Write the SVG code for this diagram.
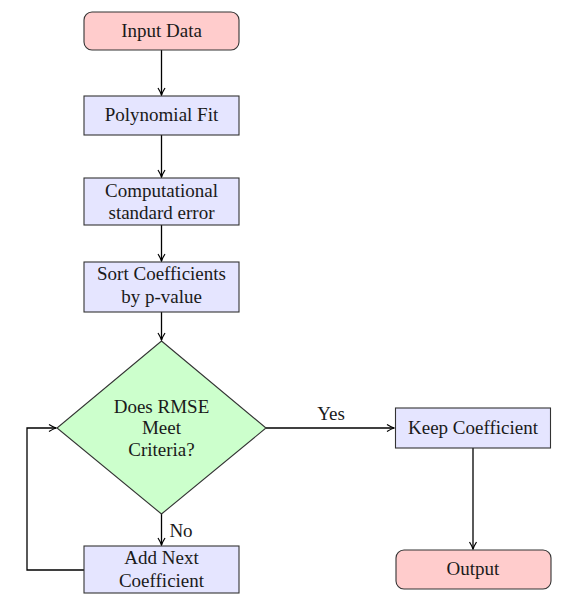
<svg xmlns="http://www.w3.org/2000/svg" width="577" height="609" viewBox="0 0 577 609">
<defs>
<style>
text{font-family:"Liberation Serif",serif;font-size:19px;fill:#1a1a1a;text-anchor:middle}
.term{fill:#ffcccc;stroke:#333;stroke-width:1.1}
.proc{fill:#e5e5ff;stroke:#333;stroke-width:1.1}
.dec{fill:#ccffcc;stroke:#333;stroke-width:1.1}
.c{fill:none;stroke:#000;stroke-width:1.3}
</style>
<marker id="a" markerWidth="10" markerHeight="10" refX="8" refY="5" orient="auto" markerUnits="userSpaceOnUse">
<path d="M1,1.5 Q5,4 8,5 Q5,6 1,8.5" fill="none" stroke="#000" stroke-width="1.2"/>
</marker>
</defs>
<rect width="577" height="609" fill="#fff"/>
<g id="connectors">
<line class="c" x1="161.5" y1="50" x2="161.5" y2="95" marker-end="url(#a)"/>
<line class="c" x1="161.5" y1="135" x2="161.5" y2="177" marker-end="url(#a)"/>
<line class="c" x1="161.5" y1="225" x2="161.5" y2="261" marker-end="url(#a)"/>
<line class="c" x1="161.5" y1="312" x2="161.5" y2="340" marker-end="url(#a)"/>
<line class="c" x1="161.5" y1="514" x2="161.5" y2="545" marker-end="url(#a)"/>
<text x="181" y="537">No</text>
<line class="c" x1="266" y1="428" x2="394" y2="428" marker-end="url(#a)"/>
<text x="331" y="420">Yes</text>
<polyline class="c" points="84,570 27,570 27,428 56,428" marker-end="url(#a)"/>
<line class="c" x1="473" y1="448" x2="473" y2="549" marker-end="url(#a)"/>
</g>
<g id="input">
<rect class="term" x="84" y="12" width="155" height="38" rx="8"/>
<text x="161.5" y="37">Input Data</text>
</g>
<g id="poly">
<rect class="proc" x="84" y="96" width="155" height="39"/>
<text x="161.5" y="121">Polynomial Fit</text>
</g>
<g id="comp">
<rect class="proc" x="84" y="178" width="155" height="47"/>
<text x="161.5" y="197">Computational</text>
<text x="161.5" y="219">standard error</text>
</g>
<g id="sort">
<rect class="proc" x="84" y="262" width="155" height="50"/>
<text x="161.5" y="280">Sort Coefficients</text>
<text x="161.5" y="303">by p-value</text>
</g>
<g id="decision">
<polygon class="dec" points="161.5,341 266,428 161.5,514 57,428"/>
<text x="161.5" y="413">Does RMSE</text>
<text x="161.5" y="434">Meet</text>
<text x="161.5" y="456">Criteria?</text>
</g>
<g id="addnext">
<rect class="proc" x="84" y="546" width="155" height="47"/>
<text x="161.5" y="564">Add Next</text>
<text x="161.5" y="587">Coefficient</text>
</g>
<g id="keep">
<rect class="proc" x="395.5" y="408" width="155" height="40"/>
<text x="473" y="434">Keep Coefficient</text>
</g>
<g id="output">
<rect class="term" x="396" y="550" width="155" height="39" rx="8"/>
<text x="473" y="575">Output</text>
</g>
</svg>
